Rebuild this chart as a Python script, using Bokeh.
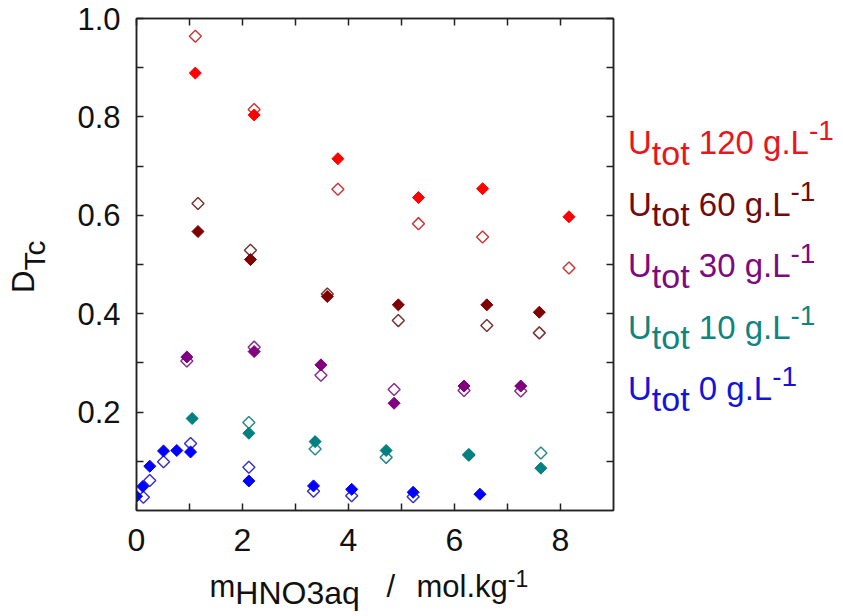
import math
from bokeh.plotting import figure
from bokeh.layouts import row, column
from bokeh.models import Range1d, FixedTicker, PrintfTickFormatter, LinearAxis
from bokeh.core.properties import value
from bokeh.embed import file_html
from bokeh.resources import INLINE

# ---------------- data ----------------
# U_tot 120 g/L
red_fill_x = [1.11, 2.22, 3.80, 5.32, 6.53, 8.16]
red_fill_y = [0.889, 0.804, 0.715, 0.636, 0.654, 0.597]
red_open_x = [1.11, 2.22, 3.80, 5.32, 6.53, 8.16]
red_open_y = [0.964, 0.815, 0.653, 0.583, 0.556, 0.493]
# U_tot 60 g/L
dred_fill_x = [1.16, 2.15, 3.60, 4.94, 6.61, 7.60]
dred_fill_y = [0.567, 0.510, 0.435, 0.418, 0.418, 0.403]
dred_open_x = [1.16, 2.15, 3.60, 4.94, 6.61, 7.60]
dred_open_y = [0.624, 0.529, 0.440, 0.386, 0.376, 0.361]
# U_tot 30 g/L
pur_fill_x = [0.95, 2.22, 3.48, 4.86, 6.18, 7.25]
pur_fill_y = [0.312, 0.323, 0.296, 0.218, 0.253, 0.253]
pur_open_x = [0.95, 2.22, 3.48, 4.86, 6.18, 7.25]
pur_open_y = [0.304, 0.332, 0.275, 0.246, 0.244, 0.243]
# U_tot 10 g/L
teal_fill_x = [1.05, 2.12, 3.37, 4.71, 6.27, 7.63]
teal_fill_y = [0.187, 0.157, 0.140, 0.122, 0.113, 0.086]
teal_open_x = [2.12, 3.37, 4.71, 6.27, 7.63]
teal_open_y = [0.179, 0.125, 0.108, 0.113, 0.117]
# U_tot 0 g/L
blue_fill_x = [0.0, 0.12, 0.25, 0.51, 0.76, 1.02, 2.12, 3.34, 4.06, 5.22, 6.48]
blue_fill_y = [0.029, 0.049, 0.090, 0.121, 0.122, 0.119, 0.060, 0.050, 0.043, 0.037, 0.033]
blue_open_x = [0.13, 0.25, 0.51, 1.02, 2.12, 3.34, 4.06, 5.22]
blue_open_y = [0.027, 0.061, 0.099, 0.136, 0.088, 0.039, 0.030, 0.028]

x_major = [0, 2, 4, 6, 8]
x_minor = [1, 3, 5, 7]
y_major = [0.2, 0.4, 0.6, 0.8, 1.0]
y_minor = [0.1, 0.3, 0.5, 0.7, 0.9]

legend_values = ["120", "60", "30", "10", "0"]
legend_colors = ["#e8161c", "#720b0b", "#7d0a80", "#0e8580", "#1414d8"]

series = [
    (blue_open_x, blue_open_y, blue_fill_x, blue_fill_y, "#0000ff", "#3a34c8"),
    (teal_open_x, teal_open_y, teal_fill_x, teal_fill_y, "#008080", "#2a8a86"),
    (pur_open_x, pur_open_y, pur_fill_x, pur_fill_y, "#800080", "#86308a"),
    (dred_open_x, dred_open_y, dred_fill_x, dred_fill_y, "#800000", "#7a3434"),
    (red_open_x, red_open_y, red_fill_x, red_fill_y, "#ff0000", "#c83a3a"),
]

FONT = "Liberation Sans"
INK = "#111111"

# ---------------- page geometry (px from the page's top-left) ----------------
PAGE_W, PAGE_H = 842, 615
YT_W = 50                       # strip holding the y title
MAIN_LEFT, FW, MAIN_RIGHT = 86, 477, 2
MAIN_TOP, FH, MAIN_BOTTOM = 18, 492, 55
MAIN_W = MAIN_LEFT + FW + MAIN_RIGHT
MAIN_H = MAIN_TOP + FH + MAIN_BOTTOM
XT_H = PAGE_H - MAIN_H          # strip holding the x title
LG_W = PAGE_W - YT_W - MAIN_W   # strip holding the legend
FRAME_X0 = YT_W + MAIN_LEFT     # page x of the plot frame's left edge

# ---------------- main figure ----------------
p = figure(width=MAIN_W, height=MAIN_H,
           min_border_left=MAIN_LEFT, min_border_right=MAIN_RIGHT,
           min_border_top=MAIN_TOP, min_border_bottom=MAIN_BOTTOM,
           x_range=Range1d(0, 9), y_range=Range1d(0, 1),
           output_backend="svg", toolbar_location=None)
p.title.visible = False
p.xgrid.visible = False
p.ygrid.visible = False
p.outline_line_color = "#222222"
p.outline_line_width = 1.5
bottom_ax = p.below[0]
left_ax = p.left[0]
top_ax = LinearAxis()
right_ax = LinearAxis()
p.add_layout(top_ax, "above")
p.add_layout(right_ax, "right")


def style(ax, major, minor, labels, size, fmt, standoff):
    ax.ticker = FixedTicker(ticks=major, minor_ticks=minor)
    ax.formatter = PrintfTickFormatter(format=fmt)
    ax.major_tick_in = 7
    ax.major_tick_out = 0
    ax.minor_tick_in = 7
    ax.minor_tick_out = 0
    ax.axis_line_color = "#222222"
    ax.axis_line_width = 1.5
    ax.major_tick_line_color = "#222222"
    ax.minor_tick_line_color = "#222222"
    ax.major_tick_line_width = 1.5
    ax.minor_tick_line_width = 1.5
    if labels:
        ax.major_label_text_font = FONT
        ax.major_label_text_font_size = size
        ax.major_label_text_color = INK
        ax.major_label_standoff = standoff
    else:
        ax.major_label_text_font_size = "0px"
        ax.major_label_text_color = None
        ax.major_label_standoff = 0


style(bottom_ax, x_major, x_minor, True, "32px", "%d", 18)
style(left_ax, y_major, y_minor, True, "31px", "%.1f", 16)
style(top_ax, x_major, x_minor, False, "0px", "%d", 0)
style(right_ax, y_major, y_minor, False, "0px", "%.1f", 0)

for ox, oy, fx, fy, fc, oc in series:
    p.scatter(ox, oy, marker="square", angle=math.pi / 4, size=8.5,
              fill_color="white", fill_alpha=0.0, line_color=oc, line_width=1.5)
for ox, oy, fx, fy, fc, oc in series:
    p.scatter(fx, fy, marker="square", angle=math.pi / 4, size=8.5,
              fill_color=fc, line_color=fc, line_width=1)


# ---------------- text strips (pixel-like coordinates) ----------------
def strip(w, h, xr, left=0, right=0):
    f = figure(width=w, height=h, x_range=Range1d(*xr), y_range=Range1d(0, h),
               min_border_left=left, min_border_right=right, min_border_top=0,
               min_border_bottom=0, x_axis_type=None, y_axis_type=None,
               output_backend="svg", toolbar_location=None)
    f.title.visible = False
    f.xgrid.visible = False
    f.ygrid.visible = False
    f.outline_line_color = None
    return f


ADV = {"U": 722, "t": 278, "o": 556, " ": 278, "g": 556, ".": 278, "L": 556,
       "-": 333, "m": 833, "H": 722, "N": 722, "O": 778, "a": 556, "q": 556,
       "/": 278, "l": 222, "k": 500, "D": 722, "T": 611, "c": 500}
for d in "0123456789":
    ADV[d] = 556


def tw(s, fs):
    return sum(ADV.get(ch, 556) for ch in s) * fs / 1000.0


K = 0.38   # measured offset between the glyph anchor and the drawn baseline (em)


def put(fig, h, txt, x, y_down, fs, color):
    # horizontal text; (x, y_down) = start of the baseline, y from strip top
    fig.text(x=[x], y=[h - (y_down - K * fs)], text=[txt],
             text_font=value(FONT), text_font_size=value(f"{fs}px"),
             text_color=color, text_align="left", text_baseline="alphabetic")


def put_up(fig, h, txt, x_base, y_down, fs, color):
    # text rotated to read upwards; x_base = baseline x, y_down = start of text
    fig.text(x=[x_base - K * fs], y=[h - y_down], text=[txt], angle=math.pi / 2,
             text_font=value(FONT), text_font_size=value(f"{fs}px"),
             text_color=color, text_align="left", text_baseline="alphabetic")


# y title strip: D_Tc  (x range = page x)
yt = strip(YT_W, PAGE_H, (0, YT_W))
put_up(yt, PAGE_H, "D", 35, 292.5, 31, INK)
put_up(yt, PAGE_H, "Tc", 45, 292.5 - tw("D", 31), 30, INK)

# x title strip: its frame lines up with the plot frame; x range = page x
xt = strip(MAIN_W, XT_H, (FRAME_X0, FRAME_X0 + FW), left=MAIN_LEFT, right=MAIN_RIGHT)
oy = MAIN_H
base = 598 - oy
put(xt, XT_H, "m", 209, base, 31, INK)
put(xt, XT_H, "HNO3aq", 209 + tw("m", 31), base + 7, 32, INK)
put(xt, XT_H, "/", 386, base, 31, INK)
put(xt, XT_H, "mol.kg", 416, base, 31, INK)
put(xt, XT_H, "-1", 416 + tw("mol.kg", 31), base - 11.5, 23, INK)

# legend strip (x range = page x)
lx = YT_W + MAIN_W
lg = strip(LG_W, PAGE_H, (lx, lx + LG_W))
for i, (val, col) in enumerate(zip(legend_values, legend_colors)):
    b = 154.5 + i * 61.6
    x0 = 627.5
    put(lg, PAGE_H, "U", x0, b, 33, col)
    x1 = x0 + tw("U", 33)
    put(lg, PAGE_H, "tot", x1, b + 10.5, 34, col)
    x2 = x1 + tw("tot", 34) + tw(" ", 33)
    main = val + " g.L"
    put(lg, PAGE_H, main, x2, b, 33, col)
    x3 = x2 + tw(main, 33)
    put(lg, PAGE_H, "-1", x3, b - 14, 28, col)

layout = row(yt, column(p, xt), lg)
open("out.html", "w").write(file_html(layout, INLINE))
